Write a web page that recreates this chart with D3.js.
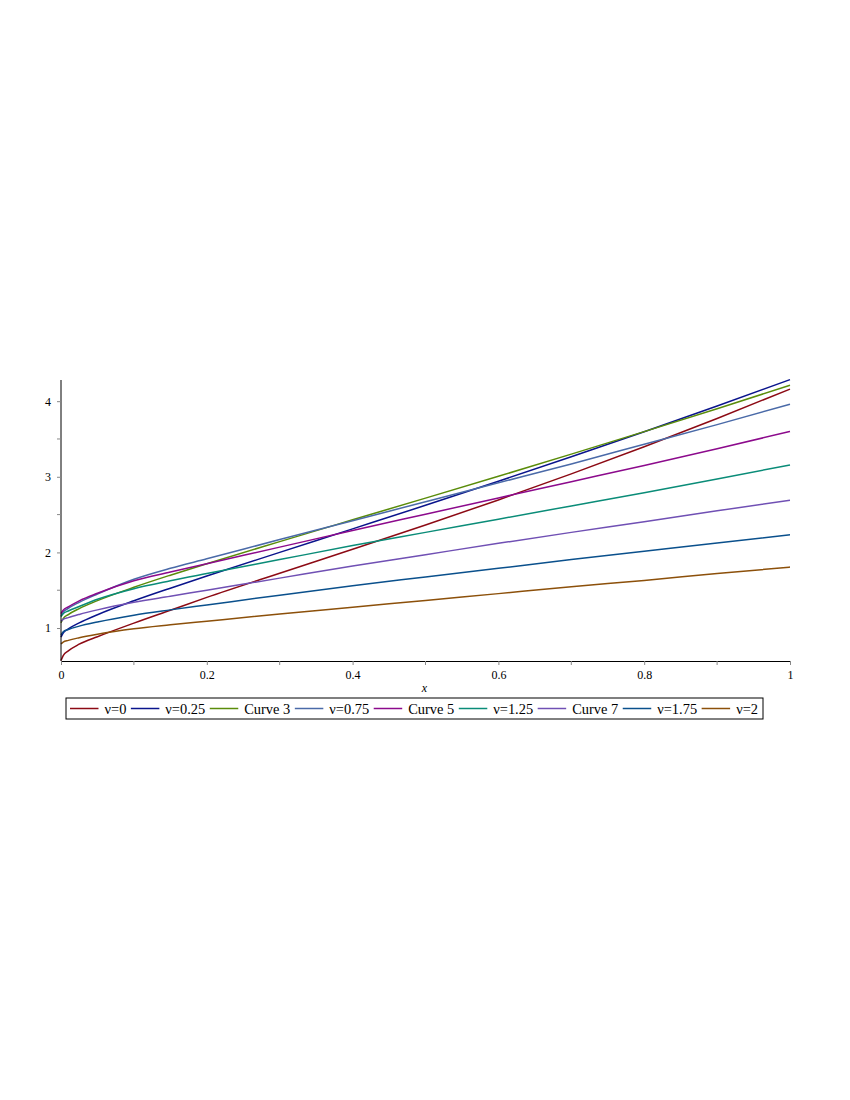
<!DOCTYPE html>
<html>
<head>
<meta charset="utf-8">
<script src="https://cdn.jsdelivr.net/npm/d3@7"></script>
<style>
  body { margin: 0; background: #fff; }
  svg { display: block; }
</style>
</head>
<body>
<svg id="chart" width="850" height="1100"></svg>
<script>
// ---- data ----
const xs = [0, 0.003, 0.01, 0.025, 0.05, 0.1, 0.15, 0.2, 0.3, 0.4, 0.5, 0.6, 0.7, 0.8, 0.9, 1];

const seriesNames = ["ν=0", "ν=0.25", "Curve 3", "ν=0.75", "Curve 5", "ν=1.25", "Curve 7", "ν=1.75", "ν=2"];

const nu0    = [0.57, 0.636, 0.698, 0.786, 0.885, 1.065, 1.235, 1.405, 1.725, 2.041, 2.362, 2.694, 3.039, 3.397, 3.771, 4.16];
const nu025  = [0.88, 0.934, 0.988, 1.068, 1.176, 1.36, 1.527, 1.688, 2.0, 2.311, 2.623, 2.941, 3.265, 3.596, 3.936, 4.285];
const curve3 = [1.07, 1.125, 1.178, 1.257, 1.362, 1.539, 1.699, 1.851, 2.143, 2.431, 2.718, 3.007, 3.30, 3.597, 3.901, 4.21];
const nu075  = [1.16, 1.21, 1.26, 1.34, 1.45, 1.645, 1.79, 1.915, 2.17, 2.42, 2.67, 2.92, 3.17, 3.43, 3.69, 3.96];
const curve5 = [1.19, 1.235, 1.28, 1.36, 1.46, 1.625, 1.74, 1.85, 2.07, 2.29, 2.505, 2.72, 2.935, 3.15, 3.37, 3.60];
const nu125  = [1.15, 1.19, 1.225, 1.285, 1.38, 1.52, 1.625, 1.72, 1.905, 2.09, 2.265, 2.44, 2.615, 2.79, 2.97, 3.157];
const curve7 = [1.09, 1.115, 1.138, 1.18, 1.24, 1.34, 1.42, 1.50, 1.66, 1.82, 1.97, 2.12, 2.265, 2.405, 2.55, 2.69];
const nu175  = [0.91, 0.95, 0.98, 1.025, 1.08, 1.17, 1.24, 1.305, 1.435, 1.56, 1.675, 1.79, 1.905, 2.015, 2.125, 2.233];
const nu2    = [0.79, 0.815, 0.837, 0.872, 0.918, 0.99, 1.042, 1.09, 1.185, 1.275, 1.365, 1.455, 1.545, 1.63, 1.72, 1.806];

const seriesValues = [nu0, nu025, curve3, nu075, curve5, nu125, curve7, nu175, nu2];
const colors = ["#8c0a14", "#0a148c", "#5a8c0a", "#4a6aa8", "#8c0a8c", "#0a8c78", "#7050b4", "#0a508c", "#8c500a"];

const xTicks = [0, 0.2, 0.4, 0.6, 0.8, 1];
const xMinorTicks = [0.1, 0.3, 0.5, 0.7, 0.9];
const yTicks = [1, 2, 3, 4];
const yMinorTicks = [1.5, 2.5, 3.5];
const xDomain = [0, 1];
const yDomain = [0.564, 4.28];

(function () {
// ---- layout ----
const svg = d3.select("#chart");
const pLeft = 61, pRight = 790, pTop = 380, pBottom = 661;
const x = d3.scaleLinear().domain(xDomain).range([pLeft, pRight]);
const y = d3.scaleLinear().domain(yDomain).range([pBottom, pTop]);
const serif = "'Liberation Serif', 'Times New Roman', serif";

// curves
const line = d3.line().x(d => x(d[0])).y(d => y(d[1])).curve(d3.curveMonotoneX);
const g = svg.append("g");
seriesValues.forEach((vals, i) => {
  g.append("path")
    .datum(xs.map((xv, j) => [xv, vals[j]]))
    .attr("d", line)
    .attr("fill", "none")
    .attr("stroke", colors[i])
    .attr("stroke-width", 1.5);
});

// x axis
const xAxis = d3.axisBottom(x).tickValues(xTicks).tickSize(4)
  .tickFormat(d => d === 0 || d === 1 ? d3.format("d")(d) : d3.format(".1f")(d));
const gx = svg.append("g").attr("transform", `translate(0,${pBottom})`).call(xAxis);
gx.select(".domain").attr("stroke", "#000").attr("stroke-width", 1);
gx.selectAll(".tick line").attr("stroke", "#888");
gx.selectAll(".tick text").attr("font-family", serif).attr("font-size", 12).attr("fill", "#000").attr("dy", "0.9em");
gx.append("g").selectAll("line").data(xMinorTicks).join("line")
  .attr("x1", d => x(d)).attr("x2", d => x(d)).attr("y1", 0).attr("y2", 4).attr("stroke", "#888");

// y axis
const yAxis = d3.axisLeft(y).tickValues(yTicks).tickSize(4).tickFormat(d3.format("d"));
const gy = svg.append("g").attr("transform", `translate(${pLeft},0)`).call(yAxis);
gy.select(".domain").attr("d", `M0,${pTop}V${pBottom}`).attr("stroke", "#000").attr("stroke-width", 1);
gy.selectAll(".tick line").attr("stroke", "#888");
gy.selectAll(".tick text").attr("font-family", serif).attr("font-size", 12).attr("fill", "#000").attr("x", -10);
gy.append("g").selectAll("line").data(yMinorTicks).join("line")
  .attr("y1", d => y(d)).attr("y2", d => y(d)).attr("x1", 0).attr("x2", -4).attr("stroke", "#888");

// x label
svg.append("text").attr("x", (pLeft + pRight) / 2 - 1).attr("y", 692)
  .attr("text-anchor", "middle").attr("font-family", serif).attr("font-style", "italic")
  .attr("font-size", 12).text("x");

// legend
const legend = svg.append("g");
const legTop = 698, legH = 21, legLeft = 66, legRight = 763;
const sampleLen = 28.5, gapIn = 6, gapOut = 4.5;
const meas = seriesNames.map(n => {
  const t = svg.append("text").attr("font-family", serif).attr("font-size", 15).text(n);
  const w = t.node().getComputedTextLength(); t.remove(); return w;
});
const avail = (legRight - 5) - (legLeft + 4) - seriesNames.length * (sampleLen + gapIn) - (seriesNames.length - 1) * gapOut;
const fs = 15 * avail / d3.sum(meas);
let cx = legLeft + 4;
seriesNames.forEach((name, i) => {
  legend.append("line").attr("x1", cx).attr("x2", cx + sampleLen)
    .attr("y1", legTop + legH / 2).attr("y2", legTop + legH / 2)
    .attr("stroke", colors[i]).attr("stroke-width", 1.5);
  legend.append("text").attr("x", cx + sampleLen + gapIn).attr("y", legTop + legH / 2 + 5)
    .attr("font-family", serif).attr("font-size", fs).attr("fill", "#000").text(name);
  cx += sampleLen + gapIn + meas[i] * fs / 15 + gapOut;
});
legend.insert("rect", ":first-child").attr("x", legLeft).attr("y", legTop)
  .attr("width", legRight - legLeft).attr("height", legH)
  .attr("fill", "#fff").attr("stroke", "#000").attr("stroke-width", 1);
})();
</script>
</body>
</html>
